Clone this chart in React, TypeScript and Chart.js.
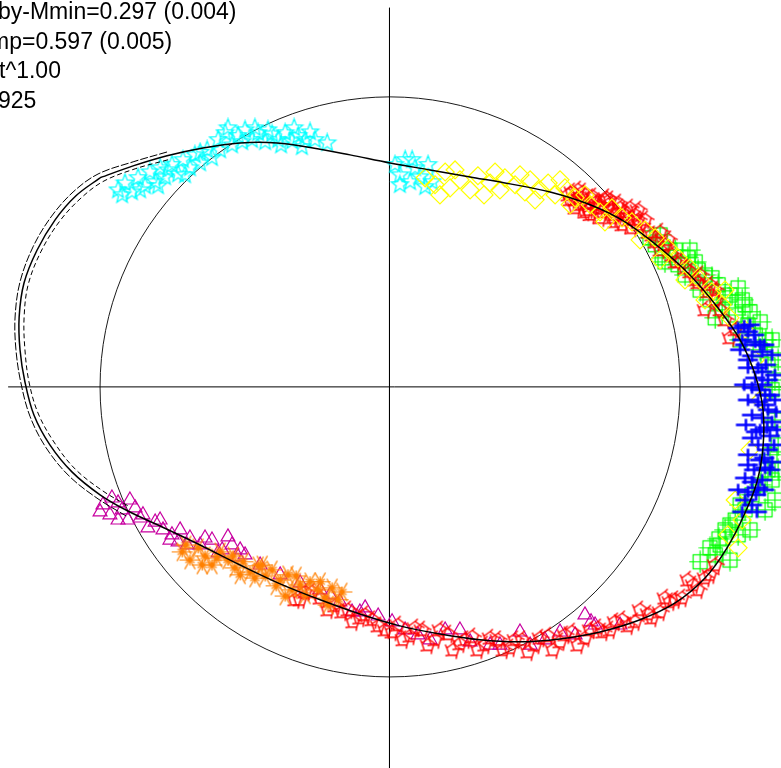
import { useEffect, useRef } from "react";
import { Chart, registerables } from "chart.js";

Chart.register(...registerables);

type P = [number, number];

// Plot window (data units: reference circle has radius 1)
const X_RANGE: P = [-1.338, 1.355];
const Y_RANGE: P = [-1.314, 1.334];

const CIRCLE = { cx: 0.007, cy: 0, r: 1 };
const AXIS_H: P[] = [[-1.31, 0], [1.355, 0]];
const AXIS_V: P[] = [[0.005, 1.307], [0.005, -1.314]];

const LABEL_LINES = ["by-Mmin=0.297 (0.004)", "mp=0.597 (0.005)", "t^1.00", "925"];

// Fitted ellipse (main trace)
const ELLIPSE_MAIN: P[] = [
  [-0.993, 0.721], [-0.879, 0.762], [-0.762, 0.797], [-0.638, 0.824], [-0.51, 0.841],
  [-0.383, 0.841], [-0.259, 0.824], [-0.131, 0.8], [0.007, 0.772], [0.145, 0.748],
  [0.283, 0.724], [0.421, 0.7], [0.559, 0.672], [0.697, 0.628], [0.817, 0.569],
  [0.938, 0.479], [1.041, 0.386], [1.138, 0.272], [1.214, 0.162], [1.266, 0.041],
  [1.293, -0.079], [1.293, -0.207], [1.272, -0.328], [1.228, -0.441], [1.169, -0.555],
  [1.093, -0.659], [0.99, -0.745], [0.869, -0.803], [0.731, -0.845], [0.593, -0.869],
  [0.455, -0.879], [0.317, -0.872], [0.179, -0.852], [0.041, -0.824], [-0.097, -0.783],
  [-0.234, -0.734], [-0.372, -0.679], [-0.51, -0.614], [-0.648, -0.545], [-0.779, -0.483],
  [-0.897, -0.428], [-0.993, -0.372], [-1.09, -0.293], [-1.166, -0.2], [-1.221, -0.097],
  [-1.252, 0.017], [-1.269, 0.128], [-1.272, 0.241], [-1.255, 0.359], [-1.21, 0.472],
  [-1.148, 0.576], [-1.076, 0.659], [-0.993, 0.721],
];

// Neighbouring traces on the left side
const ELLIPSE_OUTER: P[] = [
  [-0.762, 0.81], [-0.879, 0.776], [-1.0, 0.734], [-1.086, 0.672], [-1.162, 0.586],
  [-1.224, 0.483], [-1.269, 0.362], [-1.286, 0.241], [-1.283, 0.128], [-1.266, 0.014],
  [-1.234, -0.103], [-1.179, -0.21], [-1.1, -0.307], [-1.0, -0.386], [-0.903, -0.445],
];

const ELLIPSE_INNER: P[] = [
  [-0.759, 0.783], [-0.872, 0.752], [-0.983, 0.708], [-1.062, 0.648], [-1.134, 0.569],
  [-1.197, 0.466], [-1.241, 0.352], [-1.255, 0.238], [-1.252, 0.128], [-1.238, 0.017],
  [-1.207, -0.09], [-1.152, -0.19], [-1.079, -0.283], [-0.983, -0.359], [-0.89, -0.414],
];

const CYAN_STARS: P[] = [
  [-0.931, 0.679], [-0.907, 0.703], [-0.883, 0.672], [-0.862, 0.721], [-0.838, 0.693],
  [-0.821, 0.741], [-0.803, 0.707], [-0.786, 0.755], [-0.769, 0.724], [-0.745, 0.766],
  [-0.724, 0.734], [-0.707, 0.783], [-0.683, 0.755], [-0.666, 0.8], [-0.648, 0.772],
  [-0.624, 0.817], [-0.607, 0.79], [-0.586, 0.852], [-0.562, 0.876], [-0.538, 0.834],
  [-0.517, 0.866], [-0.493, 0.886], [-0.469, 0.852], [-0.448, 0.876], [-0.424, 0.845],
  [-0.4, 0.872], [-0.379, 0.852], [-0.355, 0.876], [-0.331, 0.848], [-0.31, 0.866],
  [-0.286, 0.852], [-0.269, 0.879], [-0.21, 0.841], [0.024, 0.766], [0.041, 0.731],
  [0.059, 0.783], [0.076, 0.707], [0.093, 0.755], [0.11, 0.724], [0.138, 0.766], [0.152, 0.707],
  [-0.917, 0.662], [-0.855, 0.679], [-0.793, 0.693], [-0.759, 0.748], [-0.7, 0.731],
  [-0.648, 0.809], [-0.579, 0.817], [-0.552, 0.893], [-0.503, 0.845], [-0.459, 0.893],
  [-0.414, 0.886], [-0.369, 0.834], [-0.324, 0.893], [-0.297, 0.828], [-0.252, 0.852],
  [0.041, 0.697], [0.083, 0.783], [0.128, 0.69],
];

const YELLOW_DIAMONDS: P[] = [
  [0.128, 0.721], [0.162, 0.697], [0.197, 0.741], [0.214, 0.686], [0.248, 0.714],
  [0.283, 0.679], [0.31, 0.728], [0.352, 0.703], [0.386, 0.679], [0.403, 0.721],
  [0.438, 0.697], [0.472, 0.672], [0.49, 0.714], [0.524, 0.679], [0.552, 0.703],
  [0.576, 0.662], [0.61, 0.686], [0.645, 0.652], [0.697, 0.628], [0.731, 0.603],
  [0.772, 0.617], [0.807, 0.583], [0.841, 0.569], [0.886, 0.541], [0.921, 0.514],
  [0.966, 0.479], [1.0, 0.445], [1.041, 0.41], [1.076, 0.369], [1.117, 0.328],
  [1.152, 0.283], [1.179, 0.238], [1.231, 0.197], [1.266, 0.093], [1.283, -0.045],
  [1.248, -0.217], [1.197, -0.39], [1.221, -0.459], [1.172, -0.51], [1.207, -0.555],
  [0.179, 0.662], [0.231, 0.748], [0.331, 0.662], [0.369, 0.741], [0.455, 0.731],
  [0.507, 0.645], [0.593, 0.714], [0.628, 0.628], [0.679, 0.662], [0.748, 0.569],
  [0.869, 0.507], [0.938, 0.438], [1.024, 0.369], [1.093, 0.3], [1.162, 0.334],
];

const RED_UPPER: P[] = [
  [0.628, 0.645], [0.645, 0.617], [0.669, 0.652], [0.69, 0.61], [0.714, 0.634],
  [0.738, 0.603], [0.759, 0.628], [0.783, 0.593], [0.8, 0.617], [0.828, 0.576],
  [0.852, 0.593], [0.869, 0.559], [0.897, 0.534], [0.921, 0.5], [0.955, 0.49],
  [0.979, 0.455], [1.007, 0.431], [1.041, 0.397], [1.069, 0.359], [1.103, 0.328],
  [1.128, 0.3], [1.093, 0.266], [1.162, 0.231], [1.197, 0.197],
  [0.634, 0.672], [0.662, 0.628], [0.697, 0.652], [0.724, 0.617], [0.748, 0.645],
  [0.772, 0.583], [0.817, 0.603], [0.841, 0.548], [0.886, 0.576], [0.91, 0.524],
  [0.938, 0.472], [0.966, 0.507], [1.024, 0.41], [1.059, 0.369], [1.11, 0.352],
  [1.145, 0.266], [1.179, 0.169],
  [0.655, 0.679], [0.697, 0.594], [0.766, 0.645], [0.807, 0.559], [0.862, 0.61],
  [0.938, 0.534], [0.99, 0.431], [1.076, 0.386], [1.128, 0.334],
  [0.621, 0.662], [0.645, 0.645], [0.672, 0.672], [0.686, 0.634], [0.707, 0.655],
  [0.731, 0.628], [0.752, 0.652], [0.772, 0.61], [0.793, 0.634], [0.817, 0.593],
  [0.834, 0.617], [0.862, 0.576], [0.783, 0.569], [0.731, 0.583], [0.679, 0.603],
];

const GREEN_SQUARES: P[] = [
  [0.921, 0.49], [0.945, 0.445], [0.972, 0.472], [1.0, 0.421], [1.024, 0.386],
  [1.059, 0.431], [1.076, 0.334], [1.11, 0.3], [1.138, 0.352], [1.152, 0.266],
  [1.197, 0.248], [1.221, 0.3], [1.241, 0.214], [1.266, 0.179], [1.214, 0.162],
  [1.283, 0.128], [1.31, 0.076], [1.324, -0.01], [1.334, -0.114], [1.317, -0.234],
  [1.31, -0.286], [1.283, -0.338], [1.255, -0.372], [1.231, -0.424], [1.197, -0.459],
  [1.162, -0.493], [1.145, -0.545], [1.128, -0.579], [1.179, -0.597],
  [0.903, 0.514], [0.955, 0.431], [1.034, 0.445], [1.093, 0.386], [1.128, 0.238],
  [1.179, 0.317], [1.248, 0.259], [1.303, 0.162], [1.334, 0.024], [1.345, -0.2],
  [1.324, -0.321], [1.214, -0.407], [1.11, -0.555], [1.207, -0.51], [1.076, -0.603],
  [0.938, 0.524], [0.99, 0.472], [1.041, 0.472], [1.069, 0.403], [1.117, 0.376],
  [1.162, 0.307], [1.207, 0.341], [1.231, 0.283], [1.283, 0.224], [1.324, 0.162],
  [1.345, 0.093], [1.345, -0.286], [1.334, -0.39], [1.3, -0.424], [1.248, -0.493],
  [1.179, -0.476], [1.141, -0.524],
];

const BLUE_CROSSES: P[] = [
  [1.207, 0.203], [1.241, 0.19], [1.231, 0.145], [1.266, 0.155], [1.255, 0.107],
  [1.29, 0.121], [1.276, 0.066], [1.303, 0.076], [1.266, 0.031], [1.31, 0.024],
  [1.283, -0.01], [1.317, -0.028], [1.276, -0.052], [1.31, -0.079], [1.29, -0.107],
  [1.324, -0.121], [1.283, -0.148], [1.317, -0.169], [1.276, -0.2], [1.31, -0.217],
  [1.283, -0.252], [1.262, -0.286], [1.3, -0.279], [1.255, -0.328], [1.29, -0.321],
  [1.241, -0.362], [1.269, -0.372], [1.231, -0.39],
  [1.221, 0.162], [1.248, 0.214], [1.283, 0.145], [1.241, 0.093], [1.29, 0.052],
  [1.255, -0.003], [1.334, -0.045], [1.3, -0.028], [1.255, -0.097], [1.338, -0.086],
  [1.307, -0.141], [1.255, -0.176], [1.331, -0.2], [1.297, -0.245], [1.241, -0.269],
  [1.317, -0.286], [1.276, -0.348], [1.207, -0.355],
  [1.228, 0.21], [1.262, 0.179], [1.214, 0.128], [1.297, 0.145], [1.241, 0.066],
  [1.324, 0.11], [1.228, 0.007], [1.334, 0.041], [1.29, 0.007], [1.241, -0.045],
  [1.297, -0.062], [1.341, -0.148], [1.234, -0.131], [1.269, -0.155], [1.241, -0.234],
  [1.324, -0.259], [1.231, -0.314], [1.297, -0.355], [1.255, -0.407], [1.221, -0.431],
  [1.272, -0.431],
];

const RED_LOWER: P[] = [
  [1.128, -0.614], [1.093, -0.659], [1.052, -0.683], [1.014, -0.728], [0.972, -0.741],
  [0.938, -0.776], [0.897, -0.783], [0.852, -0.81], [0.807, -0.803], [0.766, -0.838],
  [0.724, -0.831], [0.679, -0.866], [0.634, -0.845], [0.593, -0.879], [0.552, -0.859],
  [0.507, -0.89], [0.462, -0.872], [0.421, -0.9], [0.379, -0.872], [0.334, -0.89],
  [0.29, -0.862], [0.248, -0.886], [0.207, -0.852], [0.162, -0.872], [0.117, -0.838],
  [0.076, -0.859], [0.034, -0.821], [-0.01, -0.838], [-0.055, -0.803], [-0.097, -0.797],
  [-0.138, -0.769], [-0.183, -0.755], [-0.234, -0.728], [-0.286, -0.707], [-0.321, -0.734],
  [1.11, -0.648], [1.069, -0.7], [1.034, -0.666], [0.99, -0.734], [0.955, -0.728],
  [0.91, -0.797], [0.869, -0.769], [0.828, -0.824], [0.783, -0.81], [0.741, -0.845],
  [0.697, -0.838], [0.655, -0.89], [0.61, -0.855], [0.569, -0.907], [0.524, -0.866],
  [0.483, -0.914], [0.438, -0.872], [0.397, -0.907], [0.352, -0.866], [0.31, -0.907],
  [0.266, -0.872], [0.224, -0.907], [0.179, -0.838], [0.138, -0.89], [0.093, -0.831],
  [0.052, -0.872], [0.014, -0.845], [-0.034, -0.824], [-0.079, -0.786], [-0.121, -0.81],
  [-0.159, -0.776], [-0.207, -0.769], [-0.262, -0.707], [-0.303, -0.734],
];

const MAGENTA_TRIANGLES: P[] = [
  [-0.983, -0.407], [-0.952, -0.383], [-0.959, -0.441], [-0.917, -0.424], [-0.89, -0.39],
  [-0.897, -0.459], [-0.855, -0.452], [-0.828, -0.486], [-0.803, -0.466], [-0.776, -0.493],
  [-0.745, -0.51], [-0.717, -0.493], [-0.724, -0.534], [-0.683, -0.521], [-0.648, -0.545],
  [-0.607, -0.528], [-0.572, -0.562], [-0.538, -0.545], [-0.517, -0.586], [-0.493, -0.579],
  [-0.441, -0.614], [-0.372, -0.648], [-0.303, -0.676], [-0.234, -0.7], [-0.166, -0.741],
  [-0.124, -0.776], [-0.079, -0.762], [-0.034, -0.79], [0.014, -0.81], [0.103, -0.855],
  [0.197, -0.838], [0.283, -0.879], [0.386, -0.89], [0.455, -0.845], [0.541, -0.872],
  [0.645, -0.855], [0.679, -0.786], [0.714, -0.821], [0.8, -0.821],
  [-0.993, -0.431], [-0.931, -0.4], [-0.872, -0.417], [-0.931, -0.459], [-0.845, -0.441],
  [-0.786, -0.459], [-0.752, -0.528], [-0.693, -0.545], [-0.631, -0.521], [-0.586, -0.572],
  [-0.552, -0.517], [-0.51, -0.562], [0.145, -0.872], [0.248, -0.838], [0.352, -0.89],
  [0.49, -0.89], [0.593, -0.845], [0.7, -0.81], [0.059, -0.838], [-0.097, -0.776], [-0.2, -0.717],
];

const ORANGE_BURSTS: P[] = [
  [-0.71, -0.569], [-0.683, -0.597], [-0.655, -0.555], [-0.631, -0.583], [-0.607, -0.614],
  [-0.579, -0.569], [-0.552, -0.597], [-0.528, -0.624], [-0.5, -0.603], [-0.476, -0.638],
  [-0.448, -0.617], [-0.424, -0.652], [-0.4, -0.631], [-0.372, -0.666], [-0.345, -0.648],
  [-0.331, -0.7], [-0.355, -0.721], [-0.303, -0.683], [-0.269, -0.672], [-0.241, -0.7],
  [-0.217, -0.728], [-0.193, -0.693], [-0.172, -0.734],
  [-0.697, -0.545], [-0.641, -0.614], [-0.59, -0.59], [-0.534, -0.583], [-0.51, -0.648],
  [-0.459, -0.659], [-0.434, -0.614], [-0.386, -0.686], [-0.317, -0.652], [-0.286, -0.717],
  [-0.234, -0.672], [-0.207, -0.752], [-0.159, -0.707],
];

const toPts = (a: P[]) => a.map(([x, y]) => ({ x, y }));

function makeMarker(size: number, draw: (g: CanvasRenderingContext2D, c: number) => void) {
  const cv = document.createElement("canvas");
  cv.width = size;
  cv.height = size;
  const g = cv.getContext("2d")!;
  draw(g, size / 2);
  return cv;
}

function starMarker(color: string) {
  return makeMarker(21, (g, c) => {
    g.strokeStyle = color;
    g.lineWidth = 1.2;
    g.beginPath();
    for (let i = 0; i < 10; i++) {
      const a = -Math.PI / 2 + (i * Math.PI) / 5;
      const r = i % 2 === 0 ? 9 : 3.8;
      const px = c + r * Math.cos(a);
      const py = c + r * Math.sin(a);
      if (i === 0) g.moveTo(px, py);
      else g.lineTo(px, py);
    }
    g.closePath();
    g.stroke();
  });
}

function pentagonMarker(color: string) {
  return makeMarker(21, (g, c) => {
    g.strokeStyle = color;
    g.lineWidth = 1.4;
    g.beginPath();
    for (let i = 0; i < 5; i++) {
      const a = -Math.PI / 2 + (i * 2 * Math.PI) / 5;
      const px = c + 6.5 * Math.cos(a);
      const py = c + 6.5 * Math.sin(a);
      if (i === 0) g.moveTo(px, py);
      else g.lineTo(px, py);
    }
    g.closePath();
    for (let i = 0; i < 5; i++) {
      const a = -Math.PI / 2 + (i * 2 * Math.PI) / 5 + 0.3;
      g.moveTo(c + 6.5 * Math.cos(a - 0.3), c + 6.5 * Math.sin(a - 0.3));
      g.lineTo(c + 9.5 * Math.cos(a), c + 9.5 * Math.sin(a));
    }
    g.stroke();
  });
}

function crossedSquareMarker(color: string) {
  return makeMarker(23, (g, c) => {
    g.strokeStyle = color;
    g.lineWidth = 1.2;
    g.strokeRect(c - 7, c - 7, 14, 14);
    g.beginPath();
    g.moveTo(c - 11, c);
    g.lineTo(c + 11, c);
    g.moveTo(c, c - 11);
    g.lineTo(c, c + 11);
    g.stroke();
  });
}

function wideCrossMarker(color: string) {
  return makeMarker(23, (g, c) => {
    g.strokeStyle = color;
    g.lineWidth = 2.5;
    g.beginPath();
    g.moveTo(c - 10, c);
    g.lineTo(c + 10, c);
    g.moveTo(c, c - 6);
    g.lineTo(c, c + 6);
    g.stroke();
  });
}

function burstMarker(color: string) {
  return makeMarker(23, (g, c) => {
    g.strokeStyle = color;
    g.lineWidth = 1.2;
    g.beginPath();
    for (let i = 0; i < 12; i++) {
      const a = (i * Math.PI) / 6;
      const r = i % 2 === 0 ? 10.5 : 5.5;
      g.moveTo(c, c);
      g.lineTo(c + r * Math.cos(a), c + r * Math.sin(a));
    }
    g.stroke();
  });
}

const overlayPlugin = {
  id: "overlay",
  beforeDatasetsDraw(chart: any) {
    const { ctx, scales } = chart;
    const xs = scales.x;
    const ys = scales.y;
    const cx = xs.getPixelForValue(CIRCLE.cx);
    const cy = ys.getPixelForValue(CIRCLE.cy);
    const rx = xs.getPixelForValue(CIRCLE.cx + CIRCLE.r) - cx;
    const ry = cy - ys.getPixelForValue(CIRCLE.cy + CIRCLE.r);
    ctx.save();
    ctx.beginPath();
    ctx.ellipse(cx, cy, rx, ry, 0, 0, Math.PI * 2);
    ctx.strokeStyle = "#1a1a1a";
    ctx.lineWidth = 1;
    ctx.stroke();
    ctx.restore();
  },
  afterDraw(chart: any) {
    const { ctx } = chart;
    const xOffsets = [-2, -10, -1, -2];
    ctx.save();
    ctx.font = '23px "Liberation Sans", Arial, sans-serif';
    ctx.fillStyle = "#000";
    ctx.textBaseline = "alphabetic";
    ctx.textAlign = "left";
    LABEL_LINES.forEach((t, i) => {
      ctx.fillText(t, xOffsets[i], 19 + i * 29.7);
    });
    ctx.restore();
  },
};

export default function App() {
  const ref = useRef<HTMLCanvasElement | null>(null);

  useEffect(() => {
    if (!ref.current) return;
    const markerBase = { showLine: false, pointBorderWidth: 1.2 };
    const traceBase = { showLine: true, borderColor: "#000", pointRadius: 0, tension: 0.35, order: 1 };
    const chart = new Chart(ref.current, {
      type: "scatter",
      data: {
        datasets: [
          {
            label: "axisH",
            data: toPts(AXIS_H),
            showLine: true,
            borderColor: "#000",
            borderWidth: 1,
            pointRadius: 0,
            order: 20,
          },
          {
            label: "axisV",
            data: toPts(AXIS_V),
            showLine: true,
            borderColor: "#000",
            borderWidth: 1,
            pointRadius: 0,
            order: 20,
          },
          { ...traceBase, label: "fit", data: toPts(ELLIPSE_MAIN), borderWidth: 1.5 },
          { ...traceBase, label: "fitOuter", data: toPts(ELLIPSE_OUTER), borderWidth: 1, borderDash: [8, 2] },
          { ...traceBase, label: "fitInner", data: toPts(ELLIPSE_INNER), borderWidth: 1, borderDash: [5, 3] },
          {
            ...markerBase,
            label: "cyan",
            data: toPts(CYAN_STARS),
            pointStyle: starMarker("#00ffff"),
            order: 9,
          },
          {
            ...markerBase,
            label: "yellow",
            data: toPts(YELLOW_DIAMONDS),
            pointStyle: "rectRot",
            pointRadius: 9,
            borderColor: "#ffff00",
            backgroundColor: "rgba(0,0,0,0)",
            order: 5,
          },
          {
            ...markerBase,
            label: "redUpper",
            data: toPts(RED_UPPER),
            pointStyle: pentagonMarker("#ff0000"),
            order: 6,
          },
          {
            ...markerBase,
            label: "green",
            data: toPts(GREEN_SQUARES),
            pointStyle: crossedSquareMarker("#00ff00"),
            order: 7,
          },
          {
            ...markerBase,
            label: "blue",
            data: toPts(BLUE_CROSSES),
            pointStyle: wideCrossMarker("#0000ff"),
            order: 4,
          },
          {
            ...markerBase,
            label: "redLower",
            data: toPts(RED_LOWER),
            pointStyle: pentagonMarker("#ff0000"),
            order: 3,
          },
          {
            ...markerBase,
            label: "orange",
            data: toPts(ORANGE_BURSTS),
            pointStyle: burstMarker("#ff8000"),
            order: 2,
          },
          {
            ...markerBase,
            label: "magenta",
            data: toPts(MAGENTA_TRIANGLES),
            pointStyle: "triangle",
            pointRadius: 8,
            borderColor: "#c800a0",
            backgroundColor: "rgba(0,0,0,0)",
            order: 8,
          },
        ],
      },
      options: {
        responsive: false,
        animation: false,
        layout: { padding: 0, autoPadding: false },
        plugins: { legend: { display: false }, tooltip: { enabled: false } },
        scales: {
          x: { type: "linear", min: X_RANGE[0], max: X_RANGE[1], display: false },
          y: { type: "linear", min: Y_RANGE[0], max: Y_RANGE[1], display: false },
        },
      },
      plugins: [overlayPlugin],
    });
    return () => chart.destroy();
  }, []);

  return (
    <div style={{ position: "absolute", left: 0, top: 0, width: 781, height: 768, background: "#fff" }}>
      <canvas ref={ref} width={781} height={768} style={{ display: "block" }} />
    </div>
  );
}
